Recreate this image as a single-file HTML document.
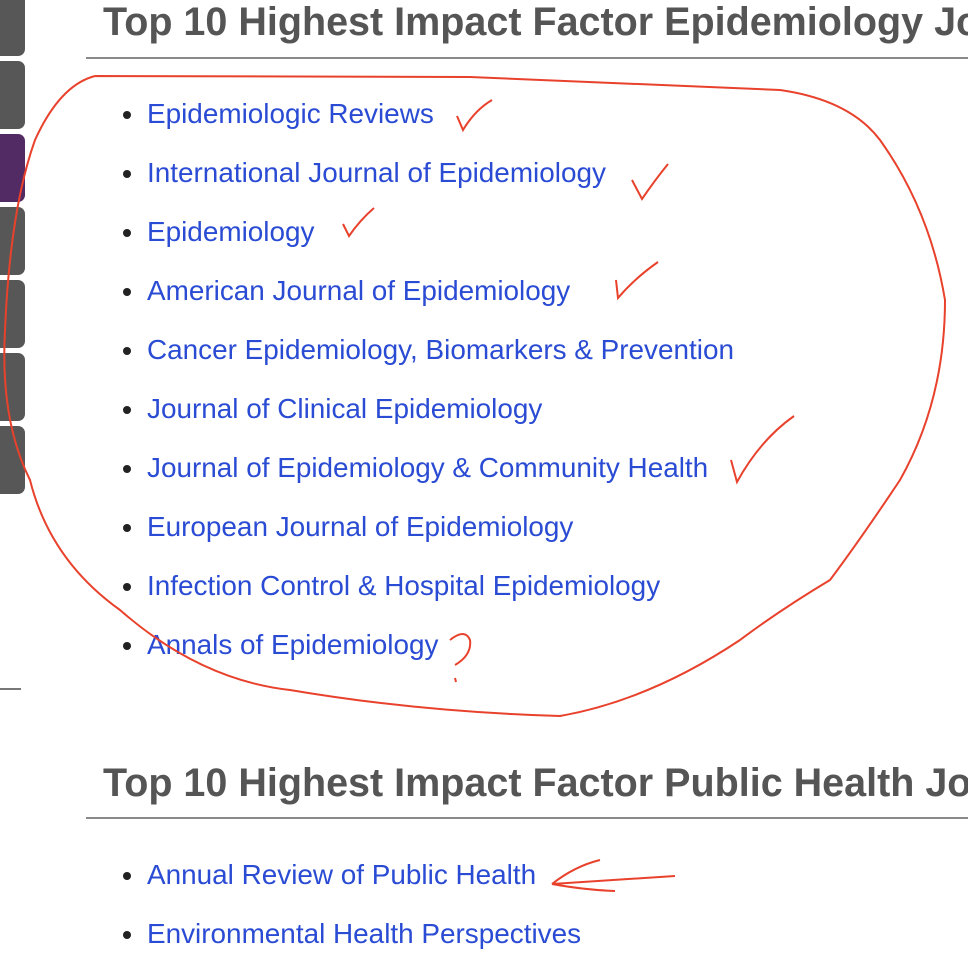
<!DOCTYPE html>
<html><head><meta charset="utf-8"><style>
body{margin:0;width:968px;height:960px;overflow:hidden;background:#fff;font-family:"Liberation Sans",Arial,sans-serif;position:relative}
.tab{position:absolute;left:0;width:25px;height:68px;background:#575757;border-radius:0 7px 7px 0}
.hwrap{position:absolute;left:103px;width:865px;height:46px;overflow:hidden}
h2{margin:0;font-size:39.5px;font-weight:bold;color:#555;white-space:nowrap;line-height:42px}
.rule{position:absolute;left:86px;width:882px;height:2px;background:#8a8a8a}
ul{position:absolute;left:120px;margin:0;padding:0;list-style:none}
li{height:59px;font-size:27.9px;line-height:30px;color:#2a4bd3;position:relative;padding-left:27px;white-space:nowrap}
li:before{content:"";position:absolute;left:3px;top:12px;width:8px;height:8px;border-radius:50%;background:#222}
svg{position:absolute;left:0;top:0}
</style></head><body>
<div class="tab" style="top:-12px"></div>
<div class="tab" style="top:61px"></div>
<div class="tab" style="top:134px;background:#522a64"></div>
<div class="tab" style="top:207px"></div>
<div class="tab" style="top:280px"></div>
<div class="tab" style="top:353px"></div>
<div class="tab" style="top:426px"></div>
<div style="position:absolute;left:0;top:688px;width:21px;height:2px;background:#777"></div>

<div class="hwrap" style="top:1px"><h2>Top 10 Highest Impact Factor Epidemiology Journals</h2></div>
<div class="rule" style="top:57px"></div>
<ul style="top:99px">
<li>Epidemiologic Reviews</li>
<li>International Journal of Epidemiology</li>
<li>Epidemiology</li>
<li>American Journal of Epidemiology</li>
<li>Cancer Epidemiology, Biomarkers &amp; Prevention</li>
<li>Journal of Clinical Epidemiology</li>
<li>Journal of Epidemiology &amp; Community Health</li>
<li>European Journal of Epidemiology</li>
<li>Infection Control &amp; Hospital Epidemiology</li>
<li>Annals of Epidemiology</li>
</ul>

<div class="hwrap" style="top:762px"><h2>Top 10 Highest Impact Factor Public Health Journals</h2></div>
<div class="rule" style="top:817px"></div>
<ul style="top:860px">
<li>Annual Review of Public Health</li>
<li>Environmental Health Perspectives</li>
</ul>

<svg width="968" height="960" fill="none" stroke="#e8412c" stroke-width="2">
<path d="M95,76 L470,77 L780,90 Q850,100 880,140 Q930,210 945,300 Q945,400 900,480 Q860,540 830,580 Q780,610 740,640 Q650,700 560,716 Q420,712 290,690 Q200,680 120,610 Q50,560 30,480 Q0,420 5,330 Q10,210 35,140 Q60,85 95,76"/>
<path d="M457,116 L463,130 Q475,110 492,100"/>
<path d="M632,180 L642,199 Q655,180 668,164"/>
<path d="M343,224 L349,236 Q360,220 374,208"/>
<path d="M616,280 L618,298 Q635,278 658,262"/>
<path d="M731,460 L737,482 Q760,440 794,416"/>
<path d="M450,640 Q465,628 470,640 Q472,655 455,665 M455,678 L456,682"/>
<path d="M552,884 L675,876 M552,884 Q575,866 600,860 M552,884 Q585,890 615,891"/>
</svg>
</body></html>
